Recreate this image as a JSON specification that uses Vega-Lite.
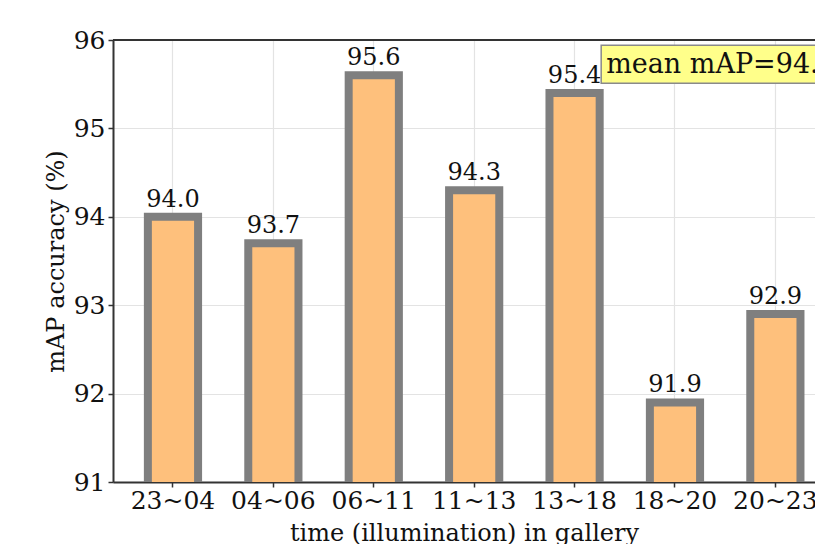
{
  "$schema": "https://vega.github.io/schema/vega-lite/v6.json",
  "autosize": {"type": "none"},
  "padding": {"left": 113, "top": 40, "right": 0, "bottom": 62},
  "width": 702,
  "height": 442,
  "background": "white",
  "config": {
    "view": {"stroke": null},
    "font": "DejaVu Serif",
    "text": {"font": "DejaVu Serif"},
    "axis": {
      "labelFont": "DejaVu Serif",
      "titleFont": "DejaVu Serif",
      "labelFontSize": 25,
      "titleFontSize": 24,
      "labelColor": "#111",
      "titleColor": "#111",
      "titleFontWeight": "normal",
      "domainColor": "#333",
      "domainWidth": 2,
      "tickColor": "#333",
      "tickWidth": 1.5,
      "tickSize": 5,
      "gridColor": "#e3e3e3",
      "gridWidth": 1.2,
      "zindex": 1
    }
  },
  "layer": [
    {
      "data": {
        "values": [
          {"time": "23~04", "mAP": 94.0},
          {"time": "04~06", "mAP": 93.7},
          {"time": "06~11", "mAP": 95.6},
          {"time": "11~13", "mAP": 94.3},
          {"time": "13~18", "mAP": 95.4},
          {"time": "18~20", "mAP": 91.9},
          {"time": "20~23", "mAP": 92.9}
        ]
      },
      "encoding": {
        "x": {
          "field": "time",
          "type": "nominal",
          "sort": null,
          "scale": {
            "domain": ["23~04", "04~06", "06~11", "11~13", "13~18", "18~20", "20~23"],
            "paddingInner": 0.5, "paddingOuter": 0.246, "align": 0.706
          },
          "axis": {
            "title": "time (illumination) in gallery",
            "labelAngle": 0,
            "labelPadding": 1,
            "titlePadding": 8,
            "grid": true,
            "bandPosition": 0.5
          }
        },
        "y": {
          "field": "mAP",
          "type": "quantitative",
          "scale": {"domain": [91, 96], "zero": false, "nice": false},
          "axis": {
            "title": "mAP accuracy (%)",
            "values": [91, 92, 93, 94, 95, 96],
            "format": "d",
            "labelPadding": 3,
            "titlePadding": 5,
            "grid": true
          }
        }
      },
      "layer": [
        {
          "mark": {"type": "bar", "fill": "#fec07c", "stroke": "#7f7f7f", "strokeWidth": 8, "clip": true}
        },
        {
          "mark": {"type": "text", "baseline": "alphabetic", "dy": -10, "fontSize": 24, "color": "#111", "font": "DejaVu Serif"},
          "encoding": {"text": {"field": "mAP", "type": "quantitative", "format": ".1f"}}
        }
      ]
    },
    {
      "data": {"values": [{"edge": 96}]},
      "mark": {"type": "rule", "color": "#333", "strokeWidth": 2},
      "encoding": {"y": {"field": "edge", "type": "quantitative"}}
    },
    {
      "data": {"values": [{"label": "mean mAP=94.0"}]},
      "mark": {"type": "rect", "fill": "#ffff8a", "stroke": "#8a8a8a", "strokeWidth": 1.5, "clip": true},
      "encoding": {
        "x": {"datum": "13~18", "bandPosition": 1.03},
        "x2": {"datum": "20~23", "bandPosition": 2},
        "y": {"datum": 95.94},
        "y2": {"datum": 95.51}
      }
    },
    {
      "data": {"values": [{"label": "mean mAP=94.0"}]},
      "mark": {"type": "text", "align": "left", "baseline": "middle", "dx": 5, "fontSize": 27, "color": "#111", "font": "DejaVu Serif"},
      "encoding": {
        "x": {"datum": "13~18", "bandPosition": 1.03},
        "y": {"datum": 95.72},
        "text": {"field": "label", "type": "nominal"}
      }
    }
  ]
}
